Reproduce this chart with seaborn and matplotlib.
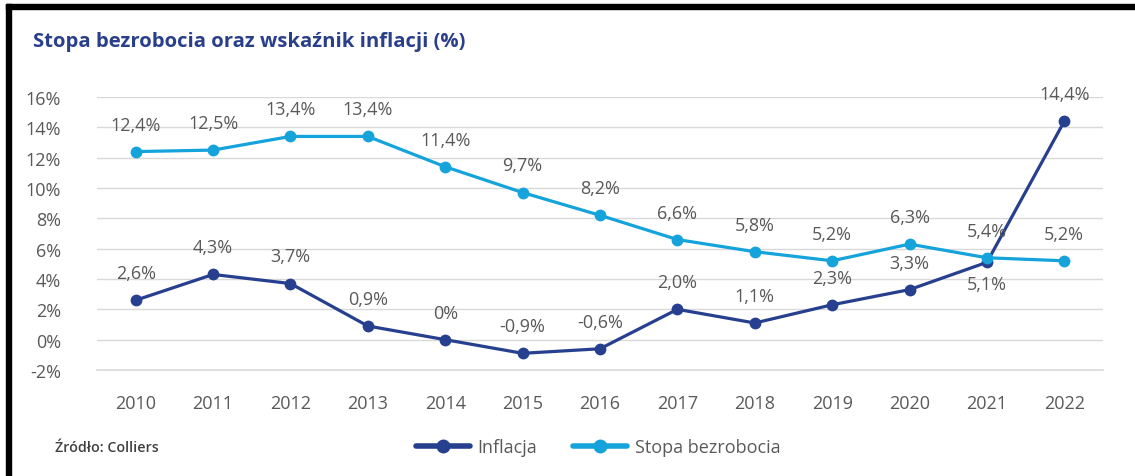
import pandas as pd
import matplotlib.pyplot as plt
import seaborn as sns
from matplotlib.lines import Line2D
from matplotlib.patches import Rectangle

# --- Data ---
years = ['2010', '2011', '2012', '2013', '2014', '2015', '2016',
         '2017', '2018', '2019', '2020', '2021', '2022']
inflacja = [2.6, 4.3, 3.7, 0.9, 0.0, -0.9, -0.6, 2.0, 1.1, 2.3, 3.3, 5.1, 14.4]
bezrobocie = [12.4, 12.5, 13.4, 13.4, 11.4, 9.7, 8.2, 6.6, 5.8, 5.2, 6.3, 5.4, 5.2]
y_ticks = [-2, 0, 2, 4, 6, 8, 10, 12, 14, 16]

# label sits below the point for these years (inflation series)
inflacja_below = ['2021']

dark_blue = '#263f8e'
light_blue = '#14a3da'
grey_text = '#595959'
grid_grey = '#d9d9d9'

sns.set_theme(style='white')
plt.rcParams['font.family'] = ['Open Sans', 'DejaVu Sans']

df = pd.DataFrame({
    'rok': years * 2,
    'wartosc': inflacja + bezrobocie,
    'seria': ['Inflacja'] * len(years) + ['Stopa bezrobocia'] * len(years),
})

fig = plt.figure(figsize=(11.35, 4.77), dpi=100)
ax = fig.add_axes([97 / 1135, 1 - 371 / 477, (1103 - 97) / 1135, (371 - 98) / 477])

sns.lineplot(data=df, x='rok', y='wartosc', hue='seria',
             palette={'Inflacja': dark_blue, 'Stopa bezrobocia': light_blue},
             marker='o', markersize=8.5, markeredgewidth=0, linewidth=2.3,
             sort=False, legend=False, ax=ax, zorder=3)

ax.set_xlim(-0.5, len(years) - 0.5)
ax.set_ylim(-2, 16)
ax.set_yticks(y_ticks)
ax.set_yticklabels([f'{t}%' for t in y_ticks])
ax.set_xticks(range(len(years)))
ax.set_xticklabels(years)
ax.set_xticks([i - 0.5 for i in range(len(years) + 1)], minor=True)
ax.tick_params(axis='x', which='major', length=0, pad=17, labelsize=13, labelcolor=grey_text)
ax.tick_params(axis='x', which='minor', length=6, width=1, color=grid_grey, direction='out')
ax.tick_params(axis='y', length=0, pad=26, labelsize=13, labelcolor=grey_text)
for lbl in ax.get_yticklabels():
    lbl.set_horizontalalignment('right')
ax.set_xlabel('')
ax.set_ylabel('')

for t in y_ticks[1:]:
    ax.axhline(t, color=grid_grey, linewidth=1, zorder=1)
for side in ['top', 'right', 'left']:
    ax.spines[side].set_visible(False)
ax.spines['bottom'].set_color(grid_grey)
ax.spines['bottom'].set_linewidth(1.2)

def fmt(v):
    if v == 0:
        return '0%'
    return f'{v:.1f}%'.replace('.', ',')

for i, v in enumerate(bezrobocie):
    ax.annotate(fmt(v), (i, v), xytext=(0, 13), textcoords='offset points',
                ha='center', va='bottom', fontsize=13, color=grey_text, zorder=4)
for i, v in enumerate(inflacja):
    if years[i] in inflacja_below:
        ax.annotate(fmt(v), (i, v), xytext=(0, -9), textcoords='offset points',
                    ha='center', va='top', fontsize=13, color=grey_text, zorder=4)
    else:
        ax.annotate(fmt(v), (i, v), xytext=(0, 13), textcoords='offset points',
                    ha='center', va='bottom', fontsize=13, color=grey_text, zorder=4)

fig.text(33 / 1135, 1 - 42 / 477, 'Stopa bezrobocia oraz wskaźnik inflacji (%)',
         fontsize=14.6, fontweight='bold', color='#2a3f8a', ha='left', va='center')
fig.text(55 / 1135, 1 - 448 / 477, 'Źródło: Colliers', fontsize=10.3,
         fontweight='semibold', color='#404040', ha='left', va='center')

handles = [Line2D([], [], color=dark_blue, marker='o', markersize=9, linewidth=4),
           Line2D([], [], color=light_blue, marker='o', markersize=9, linewidth=4)]
fig.legend(handles, ['Inflacja', 'Stopa bezrobocia'], loc='center',
           bbox_to_anchor=(598 / 1135, 1 - 448 / 477), ncol=2, frameon=False,
           handlelength=3.0, columnspacing=2.0, handletextpad=0.4,
           prop={'size': 13}, labelcolor=grey_text)

# black frame on the top and left edges
fig.patches.append(Rectangle((6 / 1135, 0), 5 / 1135, 1 - 5 / 477,
                             transform=fig.transFigure, color='black', zorder=10))
fig.patches.append(Rectangle((6 / 1135, 1 - 10 / 477), 1 - 6 / 1135, 5 / 477,
                             transform=fig.transFigure, color='black', zorder=10))

fig.savefig('out.png', dpi=100)
